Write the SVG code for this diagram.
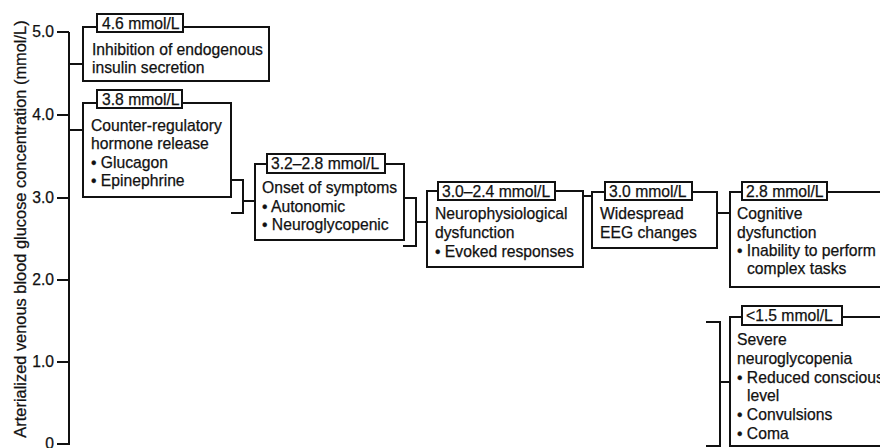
<svg xmlns="http://www.w3.org/2000/svg" width="880" height="448" viewBox="0 0 880 448">
  <style>
    text { font-family: "Liberation Sans", Arial, sans-serif; font-size: 15.7px; fill: #111; stroke: #111; stroke-width: 0.25; }
    .box { fill: #fff; stroke: #111; stroke-width: 2; }
    .tag { fill: #fff; stroke: #111; stroke-width: 2; }
    .ln { fill: none; stroke: #111; stroke-width: 2; }
    .num { text-anchor: end; }
    .title { font-size: 16.4px; text-anchor: middle; }
  </style>
  <rect width="880" height="448" fill="#fff"/>

  <!-- y axis -->
  <g id="axis">
    <path class="ln" d="M69,32 V445 M57,32 H69 M57,115 H69 M57,198 H69 M57,280 H69 M57,362 H69 M57,444 H69"/>
    <text class="num" x="54" y="37">5.0</text>
    <text class="num" x="54" y="120">4.0</text>
    <text class="num" x="54" y="203">3.0</text>
    <text class="num" x="54" y="285">2.0</text>
    <text class="num" x="54" y="367">1.0</text>
    <text class="num" x="54" y="449">0</text>
    <text class="title" transform="translate(26,229) rotate(-90)">Arterialized venous blood glucose concentration (mmol/L)</text>
  </g>

  <!-- connectors -->
  <g id="connectors">
    <path class="ln" d="M69,64 H83"/>
    <path class="ln" d="M69,130 H83"/>
    <path class="ln" d="M231,180 H243 V213 H231 M243,201 H255"/>
    <path class="ln" d="M404,198 H416 V246 H403 M416,222 H427"/>
    <path class="ln" d="M583,196 H592"/>
    <path class="ln" d="M717,213 H730"/>
    <path class="ln" d="M706,322 H720 V446 H706 M720,382 H730"/>
  </g>

  <g id="insulin">
    <rect class="box" x="83" y="27" width="186" height="54"/>
    <rect class="tag" x="97" y="14" width="86" height="18"/>
    <text x="102" y="29">4.6 mmol/L</text>
    <text x="92" y="55">Inhibition of endogenous</text>
    <text x="92" y="73">insulin secretion</text>
  </g>

  <g id="counter-regulatory">
    <rect class="box" x="83" y="103" width="148" height="94"/>
    <rect class="tag" x="97" y="90" width="85" height="18"/>
    <text x="102" y="105">3.8 mmol/L</text>
    <text x="91" y="131">Counter-regulatory</text>
    <text x="91" y="149">hormone release</text>
    <text x="91" y="168">• Glucagon</text>
    <text x="91" y="186">• Epinephrine</text>
  </g>

  <g id="symptoms">
    <rect class="box" x="255" y="164" width="149" height="76"/>
    <rect class="tag" x="267" y="154" width="118" height="19"/>
    <text x="271" y="169">3.2–2.8 mmol/L</text>
    <text x="262" y="193">Onset of symptoms</text>
    <text x="262" y="212">• Autonomic</text>
    <text x="262" y="230">• Neuroglycopenic</text>
  </g>

  <g id="neurophysiological">
    <rect class="box" x="427" y="191" width="156" height="76"/>
    <rect class="tag" x="438" y="182" width="117" height="18"/>
    <text x="442" y="197">3.0–2.4 mmol/L</text>
    <text x="435" y="219">Neurophysiological</text>
    <text x="435" y="238">dysfunction</text>
    <text x="435" y="257">• Evoked responses</text>
  </g>

  <g id="eeg">
    <rect class="box" x="592" y="192" width="125" height="56"/>
    <rect class="tag" x="605" y="182" width="87" height="18"/>
    <text x="609" y="197">3.0 mmol/L</text>
    <text x="600" y="219">Widespread</text>
    <text x="600" y="238">EEG changes</text>
  </g>

  <g id="cognitive">
    <rect class="box" x="730" y="192" width="170" height="95"/>
    <rect class="tag" x="742" y="182" width="85" height="18"/>
    <text x="746" y="197">2.8 mmol/L</text>
    <text x="737" y="219">Cognitive</text>
    <text x="737" y="238">dysfunction</text>
    <text x="737" y="256">• Inability to perform</text>
    <text x="747" y="274">complex tasks</text>
  </g>

  <g id="severe">
    <rect class="box" x="730" y="317" width="170" height="129"/>
    <rect class="tag" x="742" y="306" width="100" height="19"/>
    <text x="746" y="321">&lt;1.5 mmol/L</text>
    <text x="737" y="345">Severe</text>
    <text x="737" y="364">neuroglycopenia</text>
    <text x="737" y="383">• Reduced conscious</text>
    <text x="747" y="401">level</text>
    <text x="737" y="420">• Convulsions</text>
    <text x="737" y="439">• Coma</text>
  </g>
</svg>
